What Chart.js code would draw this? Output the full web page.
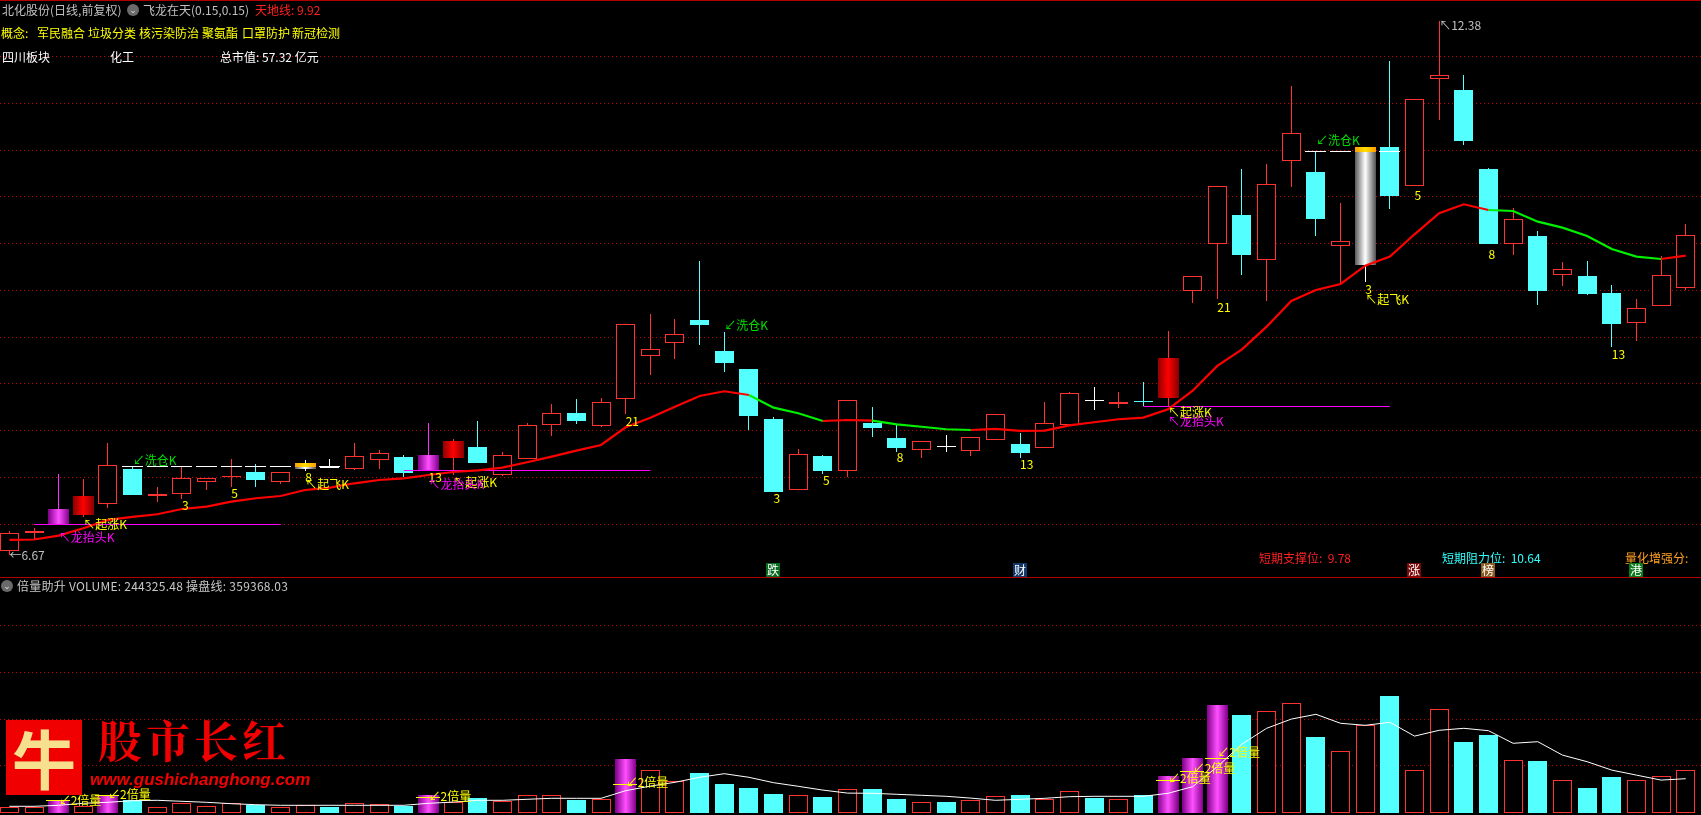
<!DOCTYPE html>
<html lang="zh-CN">
<head>
<meta charset="UTF-8">
<title>北化股份 日线</title>
<script src="https://cdn.jsdelivr.net/npm/chart.js"></script>
<style>
    html, body { margin: 0; background: #000; width: 1701px; height: 815px; overflow: hidden; }
    canvas { position: absolute; left: 0; }
    #priceChart { top: 0; }
    #volChart { top: 578px; }
    .t { position: absolute; font: 12px/16px "Noto Sans CJK SC", sans-serif; white-space: pre; }
    .rule { position: absolute; left: 0; width: 1701px; height: 1px; background: #b00000; }
    .badge { position: absolute; width: 14px; height: 14px; color: #fff; text-align: center; font: 12px/14px "Noto Sans CJK SC", sans-serif; }
    .icon { position: absolute; width: 12px; height: 12px; border-radius: 6px; background: #6a6a6a; color: #ddd; text-align: center; font: 9px/12px "DejaVu Sans", sans-serif; }
    #niu { position: absolute; left: 6px; top: 720px; width: 76px; height: 75px; background: #f00000; color: #f6e08e; text-align: center; font: bold 64px/72px "Noto Sans CJK SC", sans-serif; }
    #brand { position: absolute; left: 98px; top: 708px; color: #f00000; letter-spacing: 4px; font: bold 44px/62px "Noto Serif CJK SC", "Noto Sans CJK SC", sans-serif; white-space: pre; }
    #site { position: absolute; left: 90px; top: 769px; color: #f00000; font: italic bold 17px/22px "Liberation Sans", sans-serif; }
</style>
</head>
<body>
<canvas id="priceChart" width="1701" height="578"></canvas>
<canvas id="volChart" width="1701" height="237"></canvas>

<div class="rule" style="top:0"></div>
<div class="rule" style="top:577px"></div>

<div class="t" style="left:2px;top:2px;color:#c0c0c0">北化股份(日线,前复权)</div>
<div class="icon" style="left:127px;top:4px">⌄</div>
<div class="t" style="left:143px;top:2px;color:#c0c0c0">飞龙在天(0.15,0.15)</div>
<div class="t" style="left:255px;top:2px;color:#ff2020">天地线: 9.92</div>

<div class="t" style="left:1px;top:25px;color:#ffff00">概念:</div>
<div class="t" style="left:37px;top:25px;color:#ffff00">军民融合</div>
<div class="t" style="left:88px;top:25px;color:#ffff00">垃圾分类</div>
<div class="t" style="left:139px;top:25px;color:#ffff00">核污染防治</div>
<div class="t" style="left:202px;top:25px;color:#ffff00">聚氨酯</div>
<div class="t" style="left:242px;top:25px;color:#ffff00">口罩防护</div>
<div class="t" style="left:292px;top:25px;color:#ffff00">新冠检测</div>

<div class="t" style="left:2px;top:49px;color:#fff">四川板块</div>
<div class="t" style="left:110px;top:49px;color:#fff">化工</div>
<div class="t" style="left:220px;top:49px;color:#fff">总市值: 57.32 亿元</div>

<div class="t" style="left:1259px;top:550px;color:#ff2020">短期支撑位:  9.78</div>
<div class="t" style="left:1442px;top:550px;color:#30ffff">短期阻力位:  10.64</div>
<div class="t" style="left:1625px;top:550px;color:#ffa020">量化增强分:</div>

<div class="badge" style="left:766px;top:563px;background:#0a6a20">跌</div>
<div class="badge" style="left:1013px;top:563px;background:#12386a">财</div>
<div class="badge" style="left:1407px;top:563px;background:#7a0a0a">涨</div>
<div class="badge" style="left:1481px;top:563px;background:#8a5a20">榜</div>
<div class="badge" style="left:1629px;top:563px;background:#0a7a1a">港</div>

<div class="icon" style="left:1px;top:580px">⌄</div>
<div class="t" style="left:17px;top:578px;color:#c8c8c8;letter-spacing:0.25px">倍量助升 VOLUME: 244325.48 操盘线: 359368.03</div>

<div id="niu">牛</div>
<div id="brand">股市长红</div>
<div id="site">www.gushichanghong.com</div>

<script>
    // K线
    var opens = [6.71,6.90,7.00,7.10,7.22,7.59,7.30,7.32,7.45,7.50,7.56,7.45,7.59,7.60,7.59,7.69,7.72,7.57,7.71,7.82,7.53,7.70,8.06,8.19,8.05,8.34,8.80,8.94,9.18,8.85,8.66,8.12,7.37,7.73,7.57,8.08,7.92,7.79,7.83,7.78,7.90,7.86,7.81,8.06,8.32,8.28,8.32,8.35,9.49,10.00,10.31,9.82,10.88,10.77,9.97,9.77,11.03,10.62,11.76,11.64,10.80,10.00,10.08,9.66,9.65,9.47,9.15,9.33,9.53];
    var closes = [6.90,6.93,7.16,7.30,7.63,7.31,7.32,7.49,7.49,7.52,7.47,7.56,7.61,7.61,7.73,7.76,7.55,7.74,7.89,7.65,7.74,8.06,8.19,8.10,8.31,9.14,8.87,9.03,9.13,8.72,8.16,7.34,7.75,7.57,8.33,8.03,7.81,7.89,7.84,7.93,8.18,7.76,8.08,8.40,8.33,8.31,8.31,8.78,9.65,10.62,9.88,10.64,11.18,10.26,10.03,10.98,10.51,11.55,11.80,11.10,10.00,10.26,9.49,9.73,9.46,9.14,9.31,9.66,10.09];
    var highs = [6.93,6.96,7.54,7.48,7.87,7.61,7.40,7.62,7.49,7.70,7.64,7.56,7.69,7.70,7.87,7.79,7.74,8.08,7.91,8.10,7.77,8.08,8.28,8.34,8.35,9.14,9.25,9.19,9.81,9.05,8.66,8.15,7.80,7.74,8.33,8.25,8.06,7.89,7.95,7.93,8.18,7.98,8.31,8.41,8.47,8.41,8.52,9.07,9.65,10.62,10.80,10.85,11.69,10.99,10.44,11.03,11.95,11.55,12.38,11.80,10.81,10.38,10.13,9.80,9.81,9.56,9.41,9.87,10.21];
    var lows = [6.67,6.84,7.00,7.08,7.17,7.31,7.24,7.27,7.37,7.40,7.40,7.43,7.57,7.60,7.58,7.59,7.50,7.57,7.53,7.65,7.51,7.70,7.94,8.07,8.04,8.18,8.60,8.77,8.92,8.63,8.01,7.34,7.37,7.54,7.50,7.93,7.77,7.71,7.77,7.73,7.90,7.71,7.81,8.06,8.22,8.24,8.26,8.26,9.36,9.41,9.67,9.39,10.61,10.08,9.57,9.59,10.37,10.62,11.32,11.05,10.00,9.88,9.34,9.55,9.45,8.89,8.96,9.33,9.50];
    var dragonK = [2,17];
    var fireK = [3,18,47];
    var silverK = [12,55];
    var whiteK = [13,38,44];
    var capBottom = [7.61,10.98];
    var capTop = [7.65,11.03];

    // 均线
    var maLine = [6.831,6.836,6.877,6.956,7.045,7.077,7.106,7.162,7.187,7.240,7.277,7.301,7.365,7.390,7.437,7.472,7.490,7.526,7.558,7.576,7.604,7.662,7.722,7.786,7.847,8.036,8.139,8.256,8.371,8.421,8.381,8.246,8.186,8.103,8.114,8.107,8.068,8.042,8.015,8.007,8.018,7.997,8.000,8.057,8.090,8.122,8.139,8.228,8.427,8.692,8.870,9.112,9.387,9.504,9.569,9.764,9.861,10.100,10.325,10.421,10.360,10.349,10.235,10.171,10.082,9.943,9.861,9.836,9.871];
    var maGreenFrom = [30,35,60];
    var maGreenTo = [33,39,67];

    // 洗仓线 / 龙抬头线
    var washIdx = [5,6,7,8,9,10,11,13,53,54,56];
    var washLevel = [7.61,7.61,7.61,7.61,7.61,7.61,7.61,7.61,10.98,10.98,10.98];
    var dragonFrom = [1,16,46];
    var dragonTo = [11,26,56];
    var dragonLevel = [7.00,7.57,8.26];
    var priceGrid = [7,7.5,8,8.5,9,9.5,10,10.5,11,11.5,12];

    // 图上文字
    var fibIdx = [7,9,12,17,25,31,33,36,41,49,55,57,60,65];
    var fibPrice = [7.20,7.33,7.50,7.50,8.10,7.28,7.47,7.71,7.64,9.32,9.51,10.52,9.89,8.82];
    var fibText = ["3","5","8","13","21","3","5","8","13","21","3","5","8","13"];
    var markIdx = [5,29,53,3,18,47,2,17,47,12,55,0,58];
    var markPrice = [7.68,9.13,11.10,7.00,7.45,8.19,6.86,7.42,8.10,7.42,9.40,6.67,12.33];
    var markText = ["↙洗仓K","↙洗仓K","↙洗仓K","↖起涨K","↖起涨K","↖起涨K","↖龙抬头K","↖龙抬头K","↖龙抬头K","↖起飞K","↖起飞K","←6.67","↖12.38"];
    var markColor = ["#00e000","#00e000","#00e000","#ffff00","#ffff00","#ffff00","#ff00ff","#ff00ff","#ff00ff","#ffff00","#ffff00","#c0c0c0","#c0c0c0"];

    // 成交量
    var volumes = [26700,26700,63000,35000,87000,63000,27000,47000,32000,47000,37000,27000,37000,28000,47000,42000,35000,88000,53000,73000,57000,87000,87000,63000,67000,268000,212000,157000,198000,143000,123000,93000,87000,78000,117000,118000,68000,52000,53000,62000,82000,88000,67000,107000,73000,67000,88000,183000,273000,538000,488000,507000,547000,378000,307000,440000,583000,212000,517000,353000,388000,262000,258000,162000,123000,178000,162000,182000,212000];
    var volLine = [32000,32000,37000,47000,52000,60000,62000,57000,52000,45000,40000,37000,37000,37000,37000,37000,37000,47000,53000,62000,62000,67000,72000,72000,72000,110000,133000,152000,177000,195000,177000,150000,132000,113000,98000,97000,92000,87000,82000,73000,62000,67000,72000,80000,82000,82000,82000,97000,130000,230000,343000,422000,468000,492000,447000,437000,452000,383000,412000,422000,410000,347000,355000,288000,255000,213000,188000,163000,170000];
    var volDouble = [2,4,17,25,47,48,49];
    var volDoubleLevel = [58000,83000,73000,137000,157000,202000,267000];
    var volDoubleText = [63500,92000,80000,152000,172000,222000,300000];
    var volGrid = [234000,468000,702000,936000];

    var RED = "#ff3232", CYAN = "#54ffff", MAGENTA = "#ff30ff";
    var idx = closes.map(function (c, i) { return i; });
    var FONT = '12px "Noto Sans CJK SC", sans-serif';

    function isUp(i) { return closes[i] > opens[i] && whiteK.indexOf(i) < 0; }

    function wickColor(i) {
        if (silverK.indexOf(i) >= 0 || whiteK.indexOf(i) >= 0) return "#ffffff";
        if (dragonK.indexOf(i) >= 0) return MAGENTA;
        return isUp(i) ? RED : CYAN;
    }

    // 渐变柱子
    function barGradient(edge, middle, half) {
        return function (ctx) {
            if (!ctx.raw) return edge;
            var x = ctx.chart.scales.x.getPixelForValue(ctx.raw.x);
            if (!isFinite(x)) return edge;
            var g = ctx.chart.ctx.createLinearGradient(x - half, 0, x + half, 0);
            g.addColorStop(0, edge);
            g.addColorStop(0.5, middle);
            g.addColorStop(1, edge);
            return g;
        };
    }

    function bars(list, low, high, thickness, color, order, border) {
        return {
            type: "bar",
            data: list.map(function (i, n) { return { x: i, y: [low(i, n), high(i, n)] }; }),
            backgroundColor: color,
            borderColor: border || color,
            borderWidth: border ? 1 : 0,
            borderSkipped: false,
            inflateAmount: 0,
            barThickness: thickness,
            grouped: false,
            order: order
        };
    }

    function flat(list, level) {
        return {
            type: "line",
            data: list.map(function (i) { return { x: i, y: level }; }),
            borderColor: "#ff00ff",
            borderWidth: 1,
            pointRadius: 0,
            order: 2
        };
    }

    // 柱子对齐到整像素, 不然细边发虚
    var snapPlugin = {
        id: "snap",
        beforeDatasetsDraw: function (chart) {
            chart.getSortedVisibleDatasetMetas().forEach(function (meta) {
                if (meta.type === "bar") {
                    meta.data.forEach(function (el) {
                        el.x = Math.floor(el.x) + (el.width % 2 ? 0.5 : 0);
                        el.y = Math.round(el.y);
                        el.base = Math.round(el.base);
                        el.height = el.base - el.y;
                    });
                } else if (meta.dataset.options.borderColor === "#ff00ff") {
                    meta.data.forEach(function (p) { p.y = Math.floor(p.y) + 0.5; });
                }
            });
        }
    };

    function textPlugin(items) {
        return {
            id: "labels",
            afterDatasetsDraw: function (chart) {
                var c = chart.ctx;
                c.save();
                c.font = FONT;
                c.textAlign = "left";
                c.textBaseline = "middle";
                items.forEach(function (t) {
                    c.fillStyle = t.color;
                    c.fillText(t.text, chart.scales.x.getPixelForValue(t.i), chart.scales.y.getPixelForValue(t.v));
                });
                c.restore();
            }
        };
    }

    function baseOptions(yMin, yMax, gridValues) {
        return {
            responsive: false,
            animation: false,
            devicePixelRatio: 1,
            events: [],
            layout: { padding: 0 },
            plugins: { legend: { display: false }, tooltip: { enabled: false } },
            scales: {
                x: {
                    type: "linear",
                    offset: false,
                    min: -0.381,
                    max: 68.62,
                    ticks: { display: false },
                    grid: { display: false, drawTicks: false },
                    border: { display: false }
                },
                y: {
                    min: yMin,
                    max: yMax,
                    afterBuildTicks: function (axis) {
                        axis.ticks = gridValues.map(function (v) { return { value: v }; });
                    },
                    ticks: { display: false },
                    grid: { color: "#c00000", lineWidth: 1, drawTicks: false },
                    border: { display: false, dash: [1, 3] }
                }
            }
        };
    }

    // 主图
    var priceSets = [];
    var special = dragonK.concat(fireK, silverK);
    var plain = idx.filter(function (i) { return special.indexOf(i) < 0; });

    priceSets.push(bars(idx, function (i) { return lows[i]; }, function (i) { return highs[i]; }, 1,
        function (ctx) { return wickColor(ctx.dataIndex); }, 8));
    priceSets.push(bars(plain.filter(function (i) { return isUp(i); }),
        function (i) { return opens[i]; }, function (i) { return closes[i]; }, 19, "#000000", 6, RED));
    priceSets.push(bars(plain.filter(function (i) { return !isUp(i) && whiteK.indexOf(i) < 0; }),
        function (i) { return opens[i]; }, function (i) { return closes[i]; }, 19, CYAN, 6));
    priceSets.push(bars(dragonK, function (i) { return opens[i]; }, function (i) { return closes[i]; }, 21,
        barGradient("#80008a", "#ff50ff", 10.5), 6));
    priceSets.push(bars(fireK, function (i) { return opens[i]; }, function (i) { return closes[i]; }, 21,
        barGradient("#8c0000", "#ff0000", 10.5), 6));
    priceSets.push(bars(silverK, function (i) { return opens[i]; }, function (i) { return closes[i]; }, 21,
        barGradient("#555555", "#ffffff", 10.5), 6));
    priceSets.push(bars(silverK, function (i, n) { return capBottom[n]; }, function (i, n) { return capTop[n]; }, 21,
        barGradient("#ff9c00", "#ffe000", 10.5), 5));
    priceSets.push(bars(washIdx, function (i, n) { return washLevel[n]; }, function (i, n) { return washLevel[n] + 0.012; }, 21,
        "#ffffff", 4));
    priceSets.push(bars(whiteK, function (i) { return opens[i]; }, function (i) { return closes[i]; }, 19, "#ffffff", 4));

    dragonFrom.forEach(function (from, n) {
        priceSets.push(flat([from, dragonTo[n]], dragonLevel[n]));
    });

    priceSets.push({
        type: "line",
        data: idx.map(function (i) { return { x: i, y: maLine[i] }; }),
        borderColor: "#ff0000",
        borderWidth: 2.2,
        pointRadius: 0,
        order: 1,
        segment: {
            borderColor: function (ctx) {
                var green = maGreenFrom.some(function (from, n) {
                    return ctx.p0DataIndex >= from && ctx.p1DataIndex <= maGreenTo[n];
                });
                return green ? "#00f000" : "#ff0000";
            }
        }
    });

    var priceLabels = [];
    fibIdx.forEach(function (i, n) {
        priceLabels.push({ i: i, v: fibPrice[n], text: fibText[n], color: "#ffff00" });
    });
    markIdx.forEach(function (i, n) {
        priceLabels.push({ i: i, v: markPrice[n], text: markText[n], color: markColor[n] });
    });

    new Chart(document.getElementById("priceChart"), {
        data: { datasets: priceSets },
        options: baseOptions(6.424, 12.606, priceGrid),
        plugins: [snapPlugin, textPlugin(priceLabels)]
    });

    // 副图
    var volSets = [];
    var volPlain = idx.filter(function (i) { return volDouble.indexOf(i) < 0; });
    volSets.push(bars(volPlain.filter(function (i) { return isUp(i); }),
        function () { return 0; }, function (i) { return volumes[i]; }, 19, "#000000", 6, RED));
    volSets.push(bars(volPlain.filter(function (i) { return !isUp(i); }),
        function () { return 0; }, function (i) { return volumes[i]; }, 19, CYAN, 6));
    volSets.push(bars(volDouble, function () { return 0; }, function (i) { return volumes[i]; }, 21,
        barGradient("#80008a", "#ff50ff", 10.5), 6));
    volSets.push(bars(volDouble, function (i, n) { return volDoubleLevel[n]; }, function (i, n) { return volDoubleLevel[n] + 5000; }, 24,
        "#ffff00", 3));
    volSets.push({
        type: "line",
        data: idx.map(function (i) { return { x: i, y: volLine[i] }; }),
        borderColor: "#ffffff",
        borderWidth: 1,
        pointRadius: 0,
        order: 1
    });

    var volLabels = volDouble.map(function (i, n) {
        return { i: i, v: volDoubleText[n], text: "↙2倍量", color: "#ffff00" };
    });

    new Chart(document.getElementById("volChart"), {
        data: { datasets: volSets },
        options: baseOptions(-11500, 1173500, volGrid),
        plugins: [snapPlugin, textPlugin(volLabels)]
    });
</script>
</body>
</html>
